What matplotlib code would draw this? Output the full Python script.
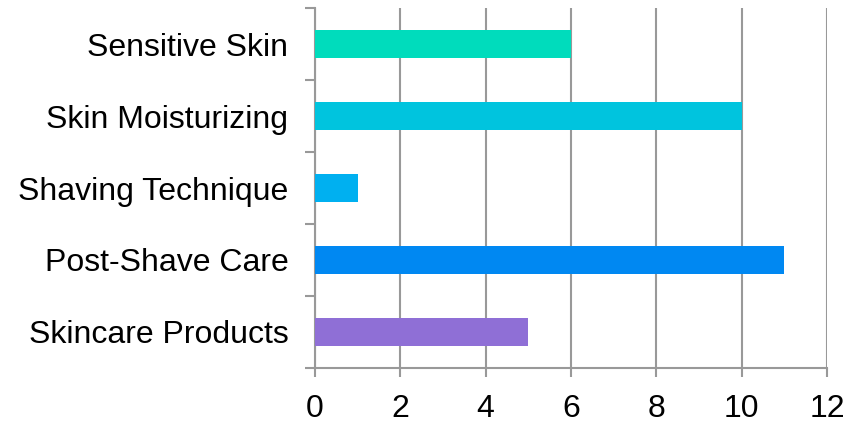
import numpy as np
import matplotlib.pyplot as plt
from matplotlib.ticker import FixedLocator

plt.rcParams['font.family'] = ['Liberation Sans', 'DejaVu Sans']

# Topics, from bottom to top
topics = ['Skincare Products', 'Post-Shave Care', 'Shaving Technique',
          'Skin Moisturizing', 'Sensitive Skin']
counts = [5, 11, 1, 10, 6]
colors = ['#8f6fd6', '#0088f2', '#00b0f0', '#00c4de', '#00dcbc']

fig = plt.figure(figsize=(8.51, 4.22), dpi=100)
ax = fig.add_axes([0.370, 0.128, 0.602, 0.853])

y = np.arange(len(topics))
ax.barh(y, counts, height=0.39, color=colors, zorder=3)

ax.set_xlim(0, 12)
ax.set_ylim(-0.5, len(topics) - 0.5)
ax.set_xticks(np.arange(0, 13, 2))

# category boundaries carry the tick marks, labels sit at the centres
ax.yaxis.set_major_locator(FixedLocator(np.arange(-0.5, len(topics), 1)))
ax.yaxis.set_major_formatter(plt.NullFormatter())
ax.yaxis.set_minor_locator(FixedLocator(y))
ax.set_yticklabels(topics, minor=True)

grey = '#999999'
ax.grid(axis='x', color=grey, linewidth=1.5, zorder=0)
for side in ['top', 'right']:
    ax.spines[side].set_visible(False)
for side in ['left', 'bottom']:
    ax.spines[side].set_color(grey)
    ax.spines[side].set_linewidth(1.5)

ax.tick_params(axis='y', which='major', length=7, width=1.5, color=grey)
ax.tick_params(axis='y', which='minor', length=0, pad=19, labelsize=23)
ax.tick_params(axis='x', length=6.5, width=1.5, color=grey, pad=12, labelsize=23)

fig.savefig('out.png', dpi=100)
